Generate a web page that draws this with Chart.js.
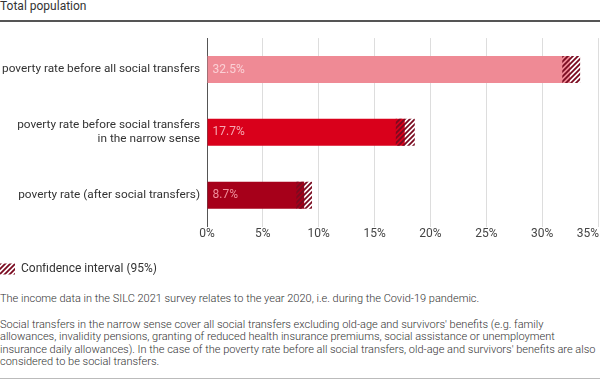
<!DOCTYPE html>
<html lang="en">
<head>
<meta charset="UTF-8" />
<title>Poverty rate before and after social transfers</title>
<script src="https://cdn.jsdelivr.net/npm/chart.js@4.4.1"></script>
<style>
  html, body { margin:0; padding:0; background:#fff; }
  body { width:600px; height:389px; position:relative; overflow:hidden; font-family:Roboto, sans-serif; color:#333; }
  .title { position:absolute; left:0; top:-1px; font-size:12px; color:#333; }
  .topline { position:absolute; left:0; top:20px; width:600px; height:2px; background:#555; }
  .chart-box { position:absolute; left:0; top:24px; width:600px; height:261px; }
  .note { position:absolute; left:0; font-size:11px; line-height:12.3px; color:#333; font-weight:300; }
  .n1 { top:293px; }
  .n2 { top:319px; width:600px; }
  .bottomline { position:absolute; left:0; top:378px; width:600px; height:1px; background:#bbb; }
</style>
</head>
<body>
  <div class="title">Total population</div>
  <div class="topline"></div>
  <div class="chart-box"><canvas id="myChart" width="600" height="261"></canvas></div>
  <div class="note n1">The income data in the SILC 2021 survey relates to the year 2020, i.e. during the Covid-19 pandemic.</div>
  <div class="note n2">Social transfers in the narrow sense cover all social transfers excluding old-age and survivors' benefits (e.g. family allowances, invalidity pensions, granting of reduced health insurance premiums, social assistance or unemployment insurance daily allowances). In the case of the poverty rate before all social transfers, old-age and survivors' benefits are also considered to be social transfers.</div>
  <div class="bottomline"></div>

<script>
  var categories = [
    'poverty rate before all social transfers',
    ['poverty rate before social transfers', 'in the narrow sense'],
    'poverty rate (after social transfers)'
  ];
  var rates  = [32.5, 17.7, 8.7];
  var ciLow  = [31.8, 16.9, 8.0];
  var ciHigh = [33.4, 18.6, 9.4];
  var xMax = 35, xStep = 5;

  var barColors   = ['#ef8a95', '#d9001b', '#a6001a'];
  var labelColors = ['#fbd0d5', '#f5a8b2', '#ef8e9b'];

  // hatch for the confidence interval
  function hatch(){
    var c = document.createElement('canvas');
    c.width = 5; c.height = 5;
    var g = c.getContext('2d');
    g.strokeStyle = '#7a0a20';
    g.lineWidth = 1.8;
    g.beginPath();
    g.moveTo(-1, 6); g.lineTo(6, -1);
    g.moveTo(-1, 1); g.lineTo(1, -1);
    g.moveTo(4, 6); g.lineTo(6, 4);
    g.stroke();
    return g.createPattern(c, 'repeat');
  }
  var stripes = hatch();

  var valueLabels = {
    id: 'valueLabels',
    afterDatasetsDraw: function(chart){
      var ctx = chart.ctx;
      var meta = chart.getDatasetMeta(0);
      ctx.save();
      ctx.font = '12px Roboto';
      ctx.textBaseline = 'middle';
      ctx.textAlign = 'left';
      meta.data.forEach(function(bar, i){
        ctx.fillStyle = labelColors[i];
        ctx.fillText(rates[i].toFixed(1) + '%', bar.base + 5, bar.y);
      });
      ctx.restore();
    }
  };

  var ctx = document.getElementById('myChart');
  new Chart(ctx, {
    type: 'bar',
    data: {
      labels: categories,
      datasets: [
        { label: 'rate', data: rates, backgroundColor: barColors, order: 1,
          grouped: false, categoryPercentage: 1, barPercentage: 0.43 },
        { label: 'Confidence interval (95%)',
          data: ciLow.map(function(l, i){ return [l, ciHigh[i]]; }),
          backgroundColor: stripes, order: 0,
          grouped: false, categoryPercentage: 1, barPercentage: 0.43 }
      ]
    },
    options: {
      indexAxis: 'y',
      responsive: false,
      animation: false,
      layout: { padding: { top: 14, right: 0, left: 0, bottom: 0 } },
      plugins: {
        tooltip: { enabled: false },
        legend: {
          position: 'bottom', align: 'start',
          labels: {
            filter: function(item){ return item.datasetIndex === 1; },
            boxWidth: 15, boxHeight: 11, padding: 0,
            color: '#333', font: { family: 'Roboto', size: 12 }
          }
        }
      },
      scales: {
        x: {
          min: 0, max: xMax,
          grid: { color: '#dddddd', drawTicks: false },
          border: { display: false },
          ticks: {
            stepSize: xStep, padding: 0, color: '#444',
            font: { family: 'Roboto', size: 12 },
            callback: function(v){ return v === xMax ? v + '%\u2007\u2007\u2007' : v + '%'; }
          },
          afterFit: function(s){ s.paddingRight = 2; s.paddingLeft = 0; s.height += 22; }
        },
        y: {
          grid: { display: false, drawTicks: false },
          border: { display: true, color: '#555', width: 1 },
          ticks: { padding: 7, color: '#333', font: { family: 'Roboto', size: 11.8 } },
          afterFit: function(s){ s.width = 207; }
        }
      }
    },
    plugins: [valueLabels]
  });
</script>
</body>
</html>
